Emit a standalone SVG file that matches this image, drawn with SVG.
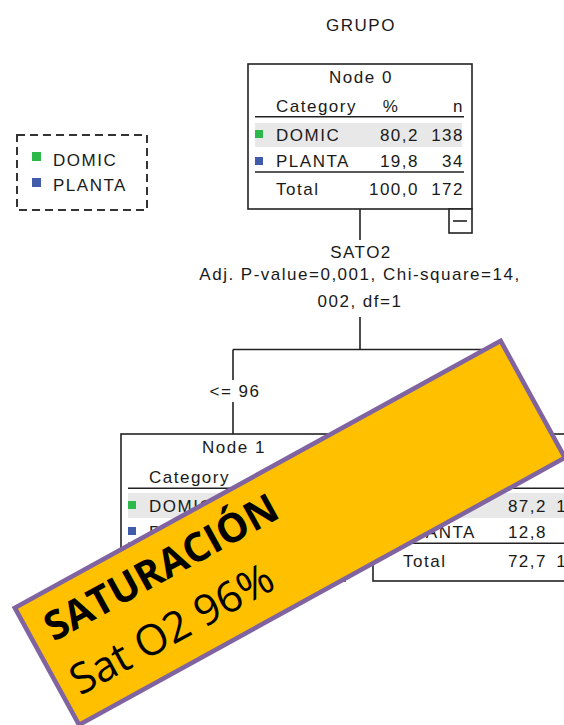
<svg xmlns="http://www.w3.org/2000/svg" width="564" height="725" viewBox="0 0 564 725">
<style>
.t{font-family:"Liberation Sans",Arial,sans-serif;font-size:17px;letter-spacing:1.5px;fill:#1a1a1a}
.m{text-anchor:middle}
.e{text-anchor:end}
.box{fill:#fff;stroke:#222;stroke-width:1.6}
.rule{stroke:#222;stroke-width:1.6}
.hl{fill:#e8e8e8}
.g{fill:#2db84a}
.b{fill:#3f5baa}
.conn{fill:none;stroke:#222;stroke-width:1.6}
.bt{font-family:"Open Sans","Noto Sans",sans-serif;fill:#000}
</style>
<rect width="564" height="725" fill="#fff"/>
<text class="t m" x="361" y="31">GRUPO</text>

<g id="legend">
<rect x="17" y="135" width="130" height="75" fill="none" stroke="#333" stroke-width="2" stroke-dasharray="8 5"/>
<rect class="g" x="32" y="152" width="9" height="9"/>
<text class="t" x="53" y="166">DOMIC</text>
<rect class="b" x="32" y="178" width="9" height="9"/>
<text class="t" x="53" y="191">PLANTA</text>
</g>

<g id="connectors">
<path class="conn" d="M360 209V240M360 317V349.5M233 349.5H485M233 349.5V380M233 402V434M485 349.5V434"/>
<text class="t m" x="361" y="258">SATO2</text>
<text class="t m" x="360" y="280">Adj. P-value=0,001, Chi-square=14,</text>
<text class="t m" x="360" y="307">002, df=1</text>
<text class="t m" x="235" y="397">&lt;= 96</text>
</g>

<g id="node0">
<rect class="box" x="248" y="64" width="224" height="145"/>
<rect class="box" x="449" y="209" width="23" height="24"/>
<path class="rule" d="M453 221H467"/>
<text class="t m" x="361" y="83">Node 0</text>
<text class="t" x="276" y="112">Category</text>
<text class="t m" x="391" y="112">%</text>
<text class="t e" x="464" y="112">n</text>
<path class="rule" d="M255 116.7H464"/>
<rect class="hl" x="255" y="123" width="207" height="24"/>
<rect class="g" x="255" y="130" width="8" height="8"/>
<text class="t" x="276" y="141">DOMIC</text>
<text class="t e" x="419" y="141">80,2</text>
<text class="t e" x="464" y="141">138</text>
<rect class="b" x="255" y="157" width="8" height="8"/>
<text class="t" x="276" y="167">PLANTA</text>
<text class="t e" x="419" y="167">19,8</text>
<text class="t e" x="464" y="167">34</text>
<path class="rule" d="M255 172H464"/>
<text class="t" x="276" y="195">Total</text>
<text class="t e" x="419" y="195">100,0</text>
<text class="t e" x="464" y="195">172</text>
</g>

<g id="node1">
<rect class="box" x="121" y="434" width="224" height="147"/>
<text class="t m" x="234" y="453">Node 1</text>
<text class="t" x="149" y="483">Category</text>
<path class="rule" d="M128 488.3H337"/>
<rect class="hl" x="128" y="493" width="207" height="25"/>
<rect class="g" x="128" y="501" width="8" height="8"/>
<text class="t" x="149" y="512">DOMIC</text>
<rect class="b" x="128" y="527" width="8" height="8"/>
<text class="t" x="149" y="538">PLANTA</text>
<path class="rule" d="M128 543.3H337"/>
</g>

<g id="node2">
<rect class="box" x="373" y="434" width="224" height="147"/>
<path class="rule" d="M380 488.3H589"/>
<rect class="hl" x="380" y="493" width="207" height="25"/>
<rect class="g" x="380" y="501" width="8" height="8"/>
<rect class="b" x="380" y="527" width="8" height="8"/>
<text class="t e" x="547" y="512">87,2</text>
<text class="t e" x="589" y="512">109</text>
<text class="t" x="402" y="538">PLANTA</text>
<text class="t e" x="547" y="538">12,8</text>
<path class="rule" d="M380 543.3H589"/>
<text class="t" x="403" y="567">Total</text>
<text class="t e" x="547" y="567">72,7</text>
<text class="t e" x="589" y="567">125</text>
</g>

<g id="banner" transform="translate(11.7,607) rotate(-28.8)">
<rect x="2.3" y="2.3" width="554.4" height="133.4" fill="#ffc000" stroke="#8064a2" stroke-width="4.6"/>
<text class="bt" x="20" y="51" font-size="40" font-weight="bold">SATURACIÓN</text>
<text class="bt" x="17" y="111" font-size="42.5">Sat O2 96%</text>
</g>
</svg>
